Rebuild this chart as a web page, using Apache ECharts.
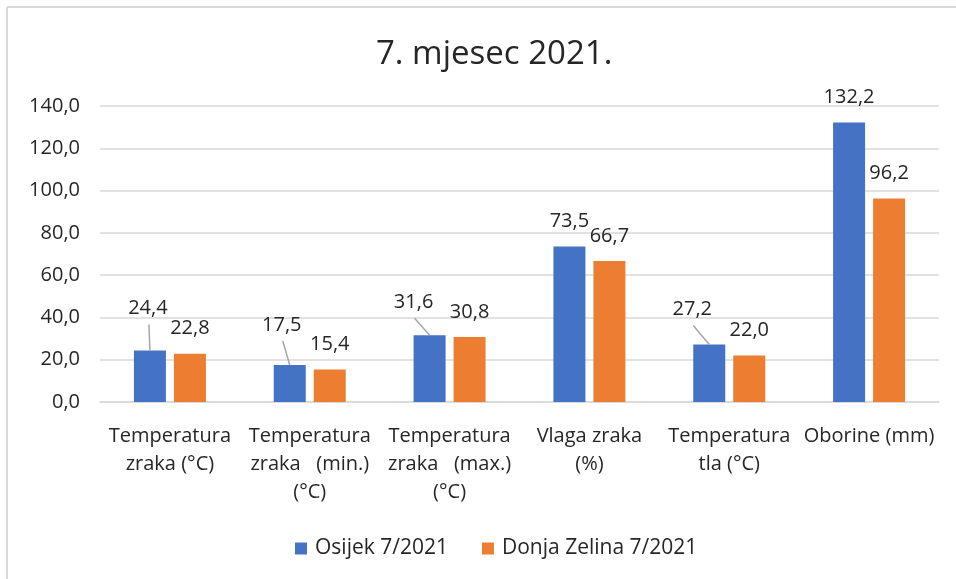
<!DOCTYPE html>
<html>
<head>
<meta charset="utf-8">
<script src="https://cdn.jsdelivr.net/npm/echarts@6/dist/echarts.min.js"></script>
<style>
  html, body { margin: 0; padding: 0; background: #fff; }
  #chart { width: 956px; height: 579px; }
</style>
</head>
<body>
<div id="chart"></div>
<script>
var categories = [
  'Temperatura\nzraka (°C)',
  'Temperatura\nzraka   (min.)\n(°C)',
  'Temperatura\nzraka   (max.)\n(°C)',
  'Vlaga zraka\n(%)',
  'Temperatura\ntla (°C)',
  'Oborine (mm)'
];
var osijek = [24.4, 17.5, 31.6, 73.5, 27.2, 132.2];
var zelina = [22.8, 15.4, 30.8, 66.7, 22.0, 96.2];
var seriesNames = ['Osijek 7/2021', 'Donja Zelina 7/2021'];

// pomak oznaka za Osijek (vodilice kao u Excelu)
var osijekLabelShift = [
  [-2, -17],
  [-8, -15],
  [-16, -8],
  [0, 0],
  [-17, -10],
  [0, 0]
];

var myChart = echarts.init(document.getElementById('chart'));

function fmt(v) {
  return v.toFixed(1).replace('.', ',');
}

var fontFamily = '"Open Sans", sans-serif';
var textColor = '#262626';
var barW = 32;
var labelDist = 15;

var option = {
  backgroundColor: '#fff',
  animation: false,
  textStyle: { fontFamily: fontFamily },
  title: {
    text: '7. mjesec 2021.',
    left: 371,
    top: 33,
    textStyle: {
      fontFamily: fontFamily,
      fontSize: 33,
      fontWeight: 'normal',
      color: textColor
    }
  },
  legend: {
    data: seriesNames,
    left: 290,
    top: 533,
    itemWidth: 12,
    itemHeight: 12,
    itemGap: 34,
    icon: 'rect',
    textStyle: {
      fontSize: 21,
      color: textColor,
      fontFamily: fontFamily,
      padding: [0, 0, 0, 3]
    }
  },
  grid: {
    left: 100,
    right: 17,
    top: 106,
    bottom: 177
  },
  xAxis: {
    type: 'category',
    data: categories,
    axisTick: { show: false },
    axisLine: { lineStyle: { color: '#d9d9d9', width: 1.5 } },
    axisLabel: {
      interval: 0,
      margin: 20,
      fontSize: 20,
      lineHeight: 28,
      color: textColor,
      fontFamily: fontFamily
    }
  },
  yAxis: {
    type: 'value',
    min: 0,
    max: 140,
    interval: 20,
    axisLine: { show: false },
    axisTick: { show: false },
    splitLine: { lineStyle: { color: '#d9d9d9', width: 1.5 } },
    axisLabel: {
      margin: 20,
      fontSize: 20,
      color: textColor,
      fontFamily: fontFamily,
      formatter: function (v) { return fmt(v); }
    }
  },
  series: [
    {
      name: seriesNames[0],
      type: 'bar',
      data: osijek,
      barWidth: barW,
      barGap: '25%',
      itemStyle: { color: '#4472C4' },
      label: {
        show: true,
        position: 'top',
        distance: labelDist,
        fontSize: 20,
        color: textColor,
        fontFamily: fontFamily,
        formatter: function (p) { return fmt(p.value); }
      },
      labelLayout: function (p) {
        var s = osijekLabelShift[p.dataIndex];
        return { dx: s[0], dy: s[1] };
      }
    },
    {
      name: seriesNames[1],
      type: 'bar',
      data: zelina,
      barWidth: barW,
      itemStyle: { color: '#ED7D31' },
      label: {
        show: true,
        position: 'top',
        distance: labelDist,
        fontSize: 20,
        color: textColor,
        fontFamily: fontFamily,
        formatter: function (p) { return fmt(p.value); }
      }
    }
  ]
};

myChart.setOption(option);

// okvir + vodilice od vrha stupca do pomaknute oznake
var graphics = [
  {
    type: 'line',
    shape: { x1: 7, y1: 7, x2: 956, y2: 7 },
    style: { stroke: '#d9d9d9', lineWidth: 2 }
  },
  {
    type: 'line',
    shape: { x1: 7, y1: 7, x2: 7, y2: 579 },
    style: { stroke: '#d9d9d9', lineWidth: 2 }
  }
];
var barOffset = (barW + barW * 0.25) / 2;
for (var i = 0; i < osijek.length; i++) {
  var s = osijekLabelShift[i];
  if (s[0] === 0 && s[1] === 0) continue;
  var pt = myChart.convertToPixel({ xAxisIndex: 0, yAxisIndex: 0 }, [i, osijek[i]]);
  var bx = pt[0] - barOffset;
  var by = pt[1];
  var labelCy = by - labelDist - 11 + s[1];
  graphics.push({
    type: 'line',
    z: 10,
    shape: { x1: bx, y1: by, x2: bx + s[0] + 1, y2: labelCy + 17 },
    style: { stroke: '#a6a6a6', lineWidth: 1.5 }
  });
}
myChart.setOption({ graphic: graphics });
</script>
</body>
</html>
